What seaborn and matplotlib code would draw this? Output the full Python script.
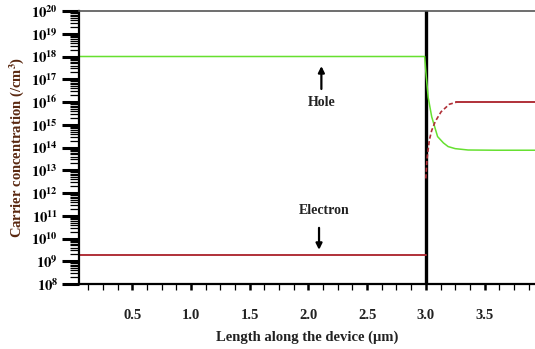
import numpy as np
import pandas as pd
import matplotlib
matplotlib.use("Agg")
import matplotlib.pyplot as plt
import matplotlib.ticker as mticker
import seaborn as sns

# ---- data ----
hole_x = [0.045, 2.99, 3.0, 3.02, 3.05, 3.10, 3.15, 3.19, 3.25, 3.36, 3.60, 3.93]
hole_logy = [18.0, 18.0, 17.33, 16.2, 15.35, 14.48, 14.2, 14.04, 13.95, 13.89, 13.88, 13.88]

elec_left_x = [0.045, 3.0]
elec_left_logy = [9.27, 9.27]
elec_tr_x = [3.0, 3.01, 3.03, 3.05, 3.08, 3.13, 3.20, 3.26]
elec_tr_logy = [12.64, 13.5, 14.33, 14.75, 15.14, 15.57, 15.9, 15.99]
elec_pl_x = [3.26, 3.93]
elec_pl_logy = [16.0, 16.0]

x_major = [0.5, 1.0, 1.5, 2.0, 2.5, 3.0, 3.5]
y_exps = list(range(8, 21))

sns.set_style("white")
plt.rcParams["font.family"] = ["Liberation Serif", "DejaVu Serif"]
plt.rcParams["mathtext.fontset"] = "stix"

fig = plt.figure(figsize=(5.35, 3.49), dpi=100)
ax = fig.add_axes([79 / 535, 1 - 284 / 349, 1 - 79 / 535, (284 - 11) / 349])

green = "#66e030"
red = "#b03038"

df_h = pd.DataFrame({"x": hole_x, "y": [10 ** v for v in hole_logy]})
df_el = pd.DataFrame({"x": elec_left_x, "y": [10 ** v for v in elec_left_logy]})
df_et = pd.DataFrame({"x": elec_tr_x, "y": [10 ** v for v in elec_tr_logy]})
df_ep = pd.DataFrame({"x": elec_pl_x, "y": [10 ** v for v in elec_pl_logy]})

sns.lineplot(data=df_h, x="x", y="y", ax=ax, color=green, lw=1.1, sort=False, estimator=None)
sns.lineplot(data=df_el, x="x", y="y", ax=ax, color=red, lw=1.4, sort=False, estimator=None)
sns.lineplot(data=df_et, x="x", y="y", ax=ax, color=red, lw=1.2, sort=False, estimator=None,
             linestyle=(0, (2.5, 1.5)))
sns.lineplot(data=df_ep, x="x", y="y", ax=ax, color=red, lw=1.4, sort=False, estimator=None)

ax.axvline(3.0, color="black", lw=2.4, zorder=1.5)

ax.set_yscale("log")
ax.set_xlim(0.045, 3.93)
ax.set_ylim(1e8, 1e20)

ax.yaxis.set_major_locator(mticker.FixedLocator([10.0 ** e for e in y_exps]))
ax.yaxis.set_minor_locator(mticker.LogLocator(base=10, subs=np.arange(2, 10), numticks=100))
ax.set_yticklabels([r"$\mathbf{10^{%d}}$" % e for e in y_exps])
ax.yaxis.set_minor_formatter(mticker.NullFormatter())

ax.xaxis.set_major_locator(mticker.FixedLocator(x_major))
ax.xaxis.set_minor_locator(mticker.MultipleLocator(0.125))
ax.set_xticklabels(["%.1f" % v for v in x_major])

ax.tick_params(axis="both", which="both", bottom=True, left=True, top=False, right=False)
ax.tick_params(axis="y", which="major", direction="out", length=12, width=2.2, pad=3,
               labelsize=10.5, colors="black")
ax.tick_params(axis="y", which="minor", direction="out", length=6.5, width=0.9, colors="black")
ax.tick_params(axis="x", which="major", direction="out", length=4, width=1.8, pad=14,
               labelsize=10.5, colors="black")
ax.tick_params(axis="x", which="minor", direction="out", length=4, width=0.9, colors="black")
for lab in ax.get_xticklabels():
    lab.set_fontweight("bold")
    lab.set_color("#222222")

ax.spines["left"].set_color("black")
ax.spines["left"].set_linewidth(1.6)
ax.spines["bottom"].set_color("black")
ax.spines["bottom"].set_linewidth(1.6)
ax.spines["top"].set_color("#555555")
ax.spines["top"].set_linewidth(1.2)
ax.spines["right"].set_visible(False)

ax.set_xlabel("Length along the device (\u00b5m)", fontsize=10.5, fontweight="bold",
              color="#222222", labelpad=6)
ax.set_ylabel("Carrier concentration (/cm$^{\\mathbf{3}}$)", fontsize=10.5, fontweight="bold",
              color="#5a2810", labelpad=4)

ax.text(2.11, 10 ** 16.0, "Hole", ha="center", va="center", fontsize=10, fontweight="bold",
        color="#222222")
ax.annotate("", xy=(2.11, 10 ** 17.7), xytext=(2.11, 10 ** 16.45),
            arrowprops=dict(arrowstyle="-|>", color="black", lw=1.6, mutation_scale=9))
ax.text(2.13, 10 ** 11.22, "Electron", ha="center", va="center", fontsize=10, fontweight="bold",
        color="#222222")
ax.annotate("", xy=(2.09, 10 ** 9.38), xytext=(2.09, 10 ** 10.59),
            arrowprops=dict(arrowstyle="-|>", color="black", lw=1.6, mutation_scale=9))

fig.savefig("out.png", dpi=100)
